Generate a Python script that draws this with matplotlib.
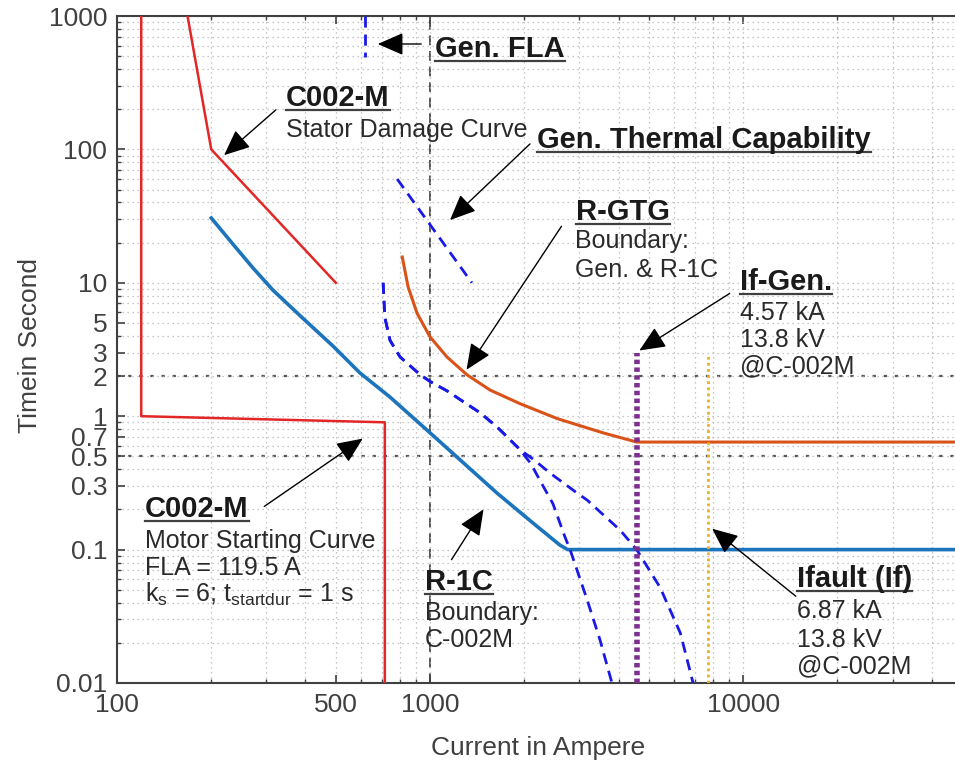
import matplotlib
matplotlib.use('Agg')
import matplotlib.pyplot as plt
from matplotlib.lines import Line2D
from matplotlib.ticker import FixedLocator, FixedFormatter, NullFormatter

plt.rcParams['font.family'] = ['Liberation Sans', 'DejaVu Sans']
plt.rcParams['mathtext.fontset'] = 'custom'
plt.rcParams['mathtext.rm'] = 'Liberation Sans'

# === DATA (current in A, time in s) ===
motor_x = [119.5, 119.5, 717, 717]
motor_y = [1000, 1.0, 0.9, 0.01]

stator_x = [168, 200, 500]
stator_y = [1000, 100, 10]

r1c_x = [200, 235, 272, 315, 385, 490, 597, 745, 1000, 1637, 2133, 2600, 2750, 47500]
r1c_y = [30.6, 19.4, 12.9, 8.8, 5.65, 3.35, 2.11, 1.39, 0.75, 0.265, 0.158, 0.108, 0.1, 0.1]

rgtg_x = [815, 851, 909, 1000, 1132, 1313, 1555, 1940, 2546, 3570, 4570, 47500]
rgtg_y = [15.6, 9.3, 5.9, 3.93, 2.78, 2.04, 1.57, 1.24, 0.96, 0.75, 0.64, 0.64]

# generator decrement curves (shared upper part, then two branches)
dec_x = [708, 717, 745, 802, 929, 1000, 1132, 1445, 1637, 1940]
dec_y = [10, 5.5, 3.7, 2.78, 2.05, 1.82, 1.55, 1.06, 0.83, 0.56]
branch_a_x = [2100, 2244, 2470, 2698, 2800, 3175, 3490, 3810]
branch_a_y = [0.44, 0.33, 0.22, 0.124, 0.1, 0.042, 0.021, 0.01]
branch_b_x = [2150, 2415, 2951, 3175, 4045, 4570, 5430, 6300, 6920]
branch_b_y = [0.47, 0.375, 0.265, 0.235, 0.14, 0.1, 0.052, 0.0237, 0.01]

gen_thermal_x = [785, 1360]
gen_thermal_y = [60, 10]
gen_fla_x = [620, 620]
gen_fla_y = [1000, 490]

if_gen_x = [4570, 4570]
if_gen_y = [0.01, 3]
ifault_x = [7730, 7730]
ifault_y = [0.01, 3]

x_major = [100, 500, 1000, 10000]
y_major = [0.01, 0.1, 0.3, 0.5, 0.7, 1, 2, 3, 5, 10, 100, 1000]

# === FIGURE ===
W, H = 955, 767
fig = plt.figure(figsize=(W / 100, H / 100), dpi=100)
fig.patch.set_facecolor('white')
ax = fig.add_axes([117 / W, 1 - 683 / H, (W - 117) / W, (683 - 16) / H])
ax.set_xscale('log')
ax.set_yscale('log')
ax.set_xlim(100, 47500)
ax.set_ylim(0.01, 1000)


def fp(px, py):
    return (px / W, 1 - py / H)


# grid
ax.grid(True, which='both', linestyle=(0, (1, 3)), color='#b4b4b4', lw=0.9, zorder=0)
ax.axvline(1000, color='#555555', lw=1.4, dashes=(5, 3), zorder=1)
for yv in [2, 0.5]:
    ax.axhline(yv, color='#555555', lw=1.6, dashes=(1.5, 3.5), zorder=1)

# curves
ax.plot(motor_x, motor_y, color='#E32626', lw=1.8, zorder=3)
ax.plot(stator_x, stator_y, color='#E32626', lw=1.8, zorder=3)
ax.plot(r1c_x, r1c_y, color='#1C75BC', lw=2.6, zorder=3, solid_joinstyle='round')
ax.plot(rgtg_x, rgtg_y, color='#D95319', lw=2.2, zorder=3, solid_joinstyle='round')
ax.plot(dec_x + branch_a_x, dec_y + branch_a_y, color='#1A1AE6', lw=2, dashes=(4, 2.5), zorder=3)
ax.plot(dec_x + branch_b_x, dec_y + branch_b_y, color='#1A1AE6', lw=2, dashes=(4, 2.5), zorder=3)
ax.plot(gen_thermal_x, gen_thermal_y, color='#1A1AE6', lw=2, dashes=(4, 2.5), zorder=3)
ax.plot(gen_fla_x, gen_fla_y, color='#1A1AE6', lw=2, dashes=(4, 2.5), zorder=3)
ax.plot(if_gen_x, if_gen_y, color='#7E2F8E', lw=4, dashes=(0.8, 0.6), zorder=4)
ax.plot(ifault_x, ifault_y, color='#EDB120', lw=2, dashes=(1, 1.2), zorder=4)

# axes styling
ax.spines['right'].set_visible(False)
for s in ['top', 'left', 'bottom']:
    ax.spines[s].set_color('#404040')
    ax.spines[s].set_linewidth(1.5)
ax.xaxis.set_major_locator(FixedLocator(x_major))
ax.xaxis.set_major_formatter(FixedFormatter([str(v) for v in x_major]))
ax.xaxis.set_minor_formatter(NullFormatter())
ax.yaxis.set_major_locator(FixedLocator(y_major))
ax.yaxis.set_major_formatter(FixedFormatter([f'{v:g}' for v in y_major]))
ax.yaxis.set_minor_formatter(NullFormatter())
ax.tick_params(which='both', direction='in', top=True, right=False,
               colors='#404040', labelsize=19)
ax.tick_params(which='major', length=6, width=1.2, pad=7)
ax.tick_params(which='minor', length=3, width=1)

fig.text(538 / W, 1 - 748 / H, 'Current in Ampere', fontsize=19, color='#404040',
         ha='center', va='center')
fig.text(30 / W, 1 - 345 / H, 'Timein Second', fontsize=19, color='#404040',
         ha='center', va='center', rotation=90)

# annotations: (left px, baseline px, text, bold)
labels = [
    (435, 57, 'Gen. FLA', True),
    (286, 106, 'C002-M', True),
    (286, 137, 'Stator Damage Curve', False),
    (537, 148, 'Gen. Thermal Capability', True),
    (576, 220, 'R-GTG', True),
    (575, 248, 'Boundary:', False),
    (575, 277, 'Gen. & R-1C', False),
    (740, 290, 'If-Gen.', True),
    (740, 320, '4.57 kA', False),
    (740, 347, '13.8 kV', False),
    (740, 373, '@C-002M', False),
    (145, 517, 'C002-M', True),
    (145, 548, 'Motor Starting Curve', False),
    (145, 575, 'FLA = 119.5 A', False),
    (145, 602, r'k$_\mathregular{s}$ = 6; t$_\mathregular{startdur}$ = 1 s', False),
    (425, 590, 'R-1C', True),
    (425, 620, 'Boundary:', False),
    (425, 647, 'C-002M', False),
    (797, 587, 'Ifault (If)', True),
    (797, 618, '6.87 kA', False),
    (797, 647, '13.8 kV', False),
    (797, 673, '@C-002M', False),
]
titles = []
for px, py, s, bold in labels:
    t = fig.text(*fp(px, py), s, fontsize=21 if bold else 18,
                 fontweight='bold' if bold else 'normal',
                 color='#1a1a1a' if bold else '#2a2a2a',
                 ha='left', va='baseline', zorder=6)
    if bold:
        titles.append((t, py))

# arrows: (tail px, tip px)
arrows = [
    ((424, 44), (375, 44)),
    ((278, 108), (222, 157)),
    ((532, 142), (448, 222)),
    ((563, 224), (465, 372)),
    ((732, 292), (637, 352)),
    ((262, 508), (365, 437)),
    ((450, 562), (485, 507)),
    ((798, 598), (710, 527)),
]
for tail, tip in arrows:
    fig.patches.append(matplotlib.patches.FancyArrowPatch(
        fp(*tail), fp(*tip), transform=fig.transFigure,
        arrowstyle='-|>,head_length=0.8,head_width=0.35', mutation_scale=20,
        color='black', lw=1.0, zorder=7))

# underline the bold titles
fig.canvas.draw()
renderer = fig.canvas.get_renderer()
for t, py in titles:
    bb = t.get_window_extent(renderer)
    y = (H - py - 4) / H
    fig.lines.append(Line2D([bb.x0 / W, bb.x1 / W], [y, y], transform=fig.transFigure,
                            color='#404040', lw=1.6))

fig.savefig('out.png', dpi=100, facecolor='white')
